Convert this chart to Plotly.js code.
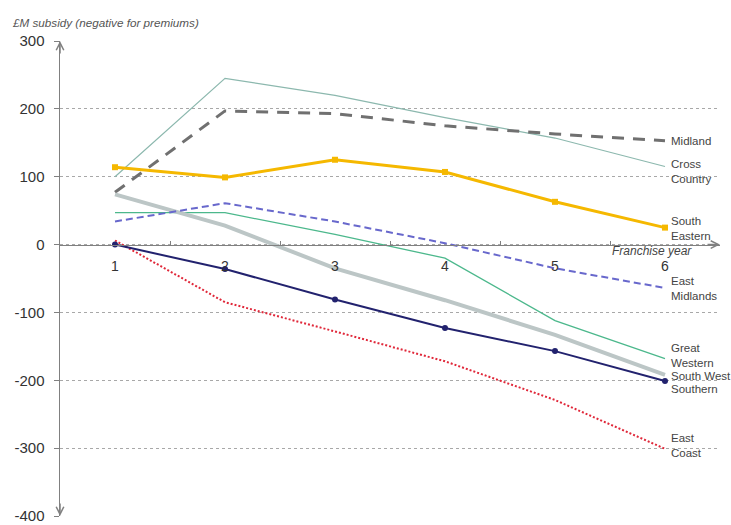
<!DOCTYPE html>
<html>
<head>
<meta charset="utf-8">
<script src="https://cdn.plot.ly/plotly-3.0.1.min.js"></script>
<style>
html,body{margin:0;padding:0;background:#fff;}
#chart{width:731px;height:525px;}
</style>
</head>
<body>
<div id="chart"></div>
<script>
// Franchise years
const years = [1, 2, 3, 4, 5, 6];
const yTicks = [-400, -300, -200, -100, 0, 100, 200, 300];
const yTickText = ['-400', '-300', '-200', '-100', '0', '100', '200', '300'];
const minorTicks = [1.5, 2.5, 3.5, 4.5, 5.5];

// £M subsidy per franchise year (negative = premium)
const crossCountry = [100, 245, 220, 187, 157, 115];
const midland      = [77, 197, 193, 175, 163, 153];
const southEastern = [114, 99, 125, 107, 63, 25];
const eastMidlands = [34, 61, 34, 2, -35, -64];
const greatWestern = [47, 47, 15, -20, -112, -168];
const southWest    = [74, 28, -35, -82, -133, -192];
const southern     = [0, -36, -81, -123, -157, -201];
const eastCoast    = [6, -85, -128, -172, -229, -301];

// Label names and their vertical anchor values
const labelTexts = ['Midland', 'Cross<br>Country', 'South<br>Eastern', 'East<br>Midlands',
                    'Great<br>Western', 'South West', 'Southern', 'East<br>Coast'];
const labelY = [153, 108, 23, -64, -163, -194, -213, -296];

const FONT = '"Liberation Sans", Arial, sans-serif';

const traces = [
  {name:'Cross Country', x: years, y: crossCountry, mode:'lines',
   line:{color:'#8cb8ae', width:1.2}},
  {name:'Midland', x: years, y: midland, mode:'lines',
   line:{color:'#707070', width:3, dash:'12px,9px'}},
  {name:'Great Western', x: years, y: greatWestern, mode:'lines',
   line:{color:'#4cb88c', width:1.3}},
  {name:'South West', x: years, y: southWest, mode:'lines',
   line:{color:'#bcc6c6', width:4}},
  {name:'East Midlands', x: years, y: eastMidlands, mode:'lines',
   line:{color:'#6868cc', width:2, dash:'7px,4px'}},
  {name:'East Coast', x: years, y: eastCoast, mode:'lines',
   line:{color:'#e0283a', width:2, dash:'2px,2px'}},
  {name:'Southern', x: years, y: southern, mode:'lines+markers',
   line:{color:'#22226e', width:2}, marker:{symbol:'circle', size:6, color:'#22226e'}},
  {name:'South Eastern', x: years, y: southEastern, mode:'lines+markers',
   line:{color:'#f5b800', width:3}, marker:{symbol:'square', size:6, color:'#f5b800'}}
];

const annotations = labelTexts.map((t, i) => ({
  x: 6.035, y: labelY[i], xref:'x', yref:'y', text: t, showarrow:false,
  xanchor:'left', yanchor:'middle', align:'left',
  font:{family:FONT, size:11.5, color:'#444'}
}));

annotations.push({
  x: 5.88, y: -10, xref:'x', yref:'y', text:'<i>Franchise year</i>', showarrow:false,
  xanchor:'center', yanchor:'middle', font:{family:FONT, size:12, color:'#444'}
});

// axis arrows
const arrowStyle = {text:'', showarrow:true, arrowhead:5, arrowsize:1, arrowwidth:1.5,
  arrowcolor:'#808080', xref:'x', yref:'y'};
annotations.push(Object.assign({x:0.5, y:300, ax:0, ay:14}, arrowStyle));
annotations.push(Object.assign({x:0.5, y:-400, ax:0, ay:-14}, arrowStyle));
annotations.push(Object.assign({x:6.5, y:0, ax:-14, ay:0}, arrowStyle));

const layout = {
  width:731, height:525,
  margin:{l:60, r:11, t:41, b:9},
  paper_bgcolor:'#fff', plot_bgcolor:'#fff',
  showlegend:false,
  font:{family:FONT, color:'#333'},
  title:{text:'<i>£M subsidy (negative for premiums)</i>', x:13/731, xanchor:'left',
    xref:'container', y:1-23/525, yref:'container', yanchor:'middle',
    font:{family:FONT, size:11.7, color:'#555'}},
  xaxis:{range:[0.5, 6.5], anchor:'free', position:4/7, tickvals: years,
    ticks:'', showline:true, linecolor:'#808080', linewidth:1.5,
    showgrid:false, zeroline:false, ticklabelstandoff:8,
    tickfont:{family:FONT, size:14, color:'#333'},
    minor:{tickvals: minorTicks, ticks:'inside', ticklen:4, tickcolor:'#808080', tickwidth:1, showgrid:false}},
  yaxis:{range:[-400, 300], tickvals: yTicks, ticktext: yTickText, showgrid:true, gridcolor:'#a8a8a8',
    griddash:'dot', gridwidth:1, showline:true, linecolor:'#808080', linewidth:1.5,
    ticks:'outside', ticklen:5, tickcolor:'#808080', zeroline:false,
    ticklabeloverflow:'allow', ticklabelstandoff:6,
    tickfont:{family:FONT, size:15, color:'#333'}},
  annotations: annotations
};

Plotly.newPlot('chart', traces, layout, {displayModeBar:false, staticPlot:true});
</script>
</body>
</html>
